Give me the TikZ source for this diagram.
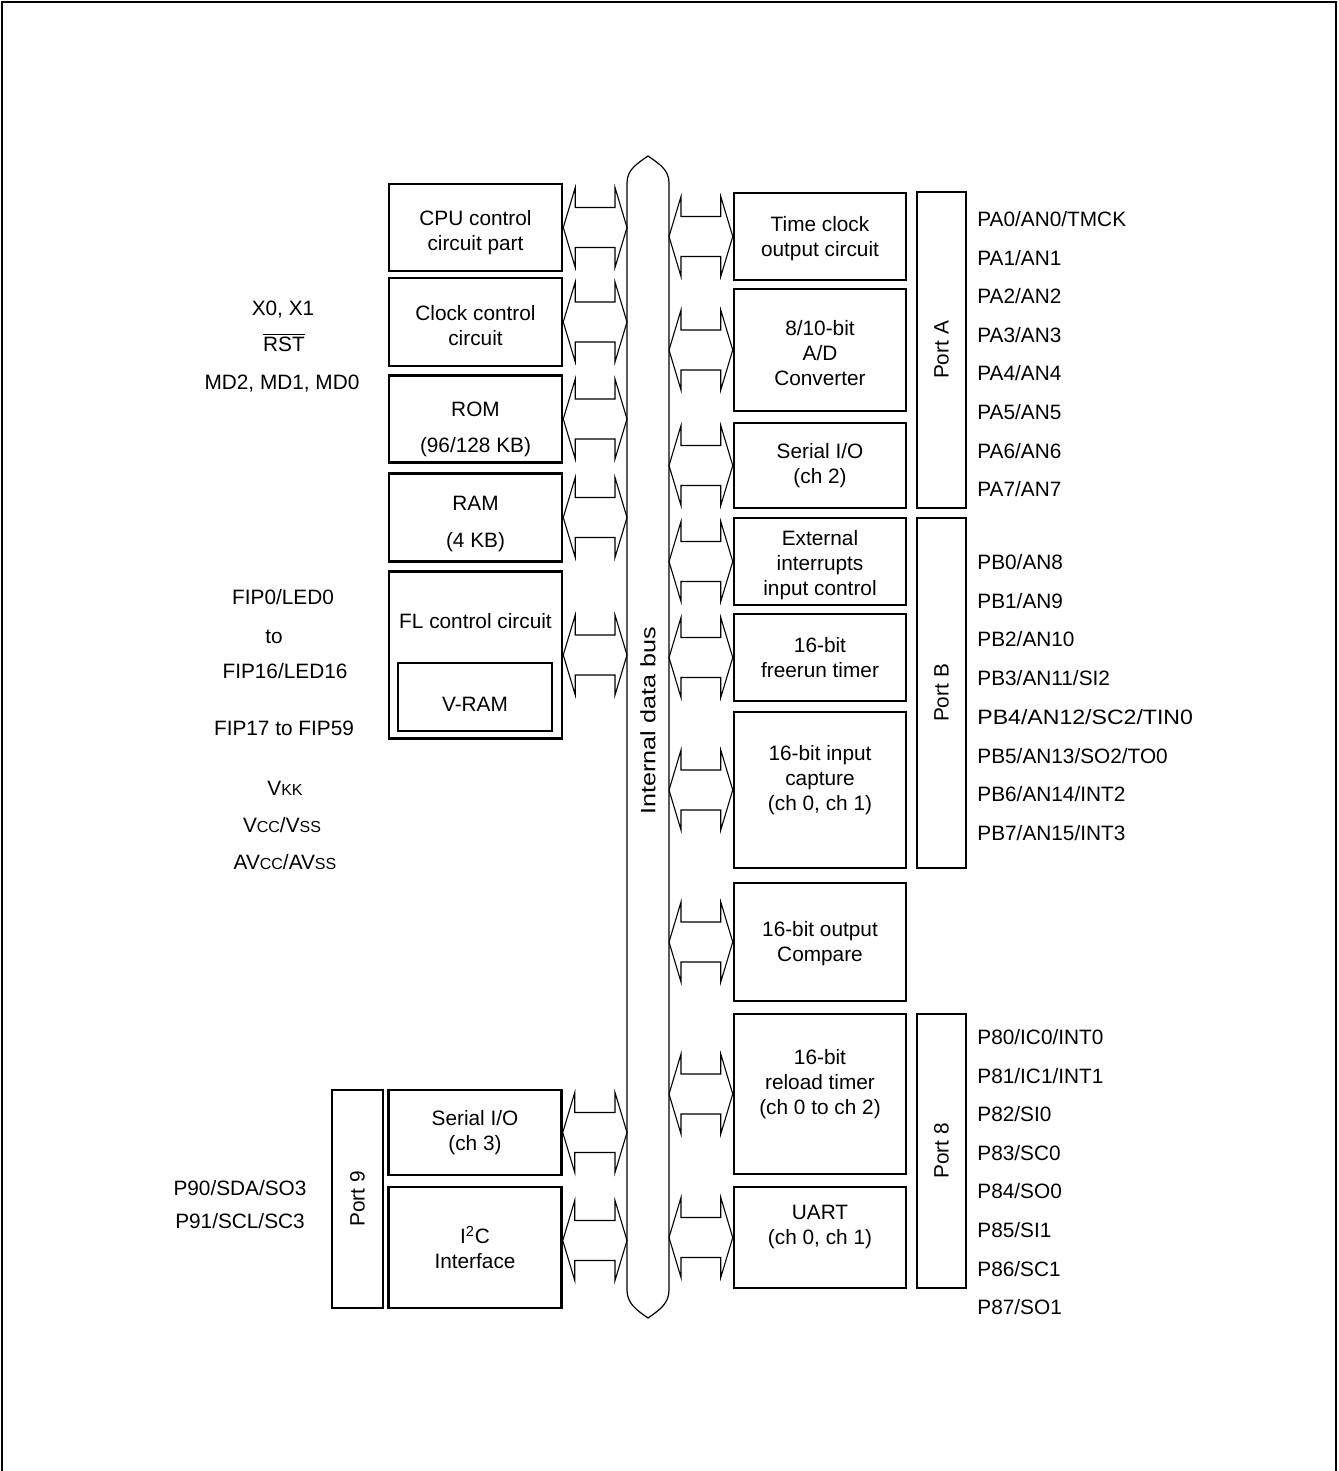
\documentclass[tikz,border=0pt]{standalone}
\usepackage{fontspec}
\setmainfont{Liberation Sans}
\usetikzlibrary{positioning, calc}

\newcommand{\lowcaps}[1]{{\fontsize{8pt}{9pt}\selectfont #1}}
\newcommand{\buslink}[2]{%
  \draw[link] let \p1=(#1), \p2=(#2) in
    (\x1,\y1) -- (\x1+6pt,\y1+20pt) -- (\x1+6pt,\y1+10pt) -- (\x2-6pt,\y1+10pt)
    -- (\x2-6pt,\y1+20pt) -- (\x2,\y1) -- (\x2-6pt,\y1-20pt) -- (\x2-6pt,\y1-10pt)
    -- (\x1+6pt,\y1-10pt) -- (\x1+6pt,\y1-20pt) -- cycle;}

\begin{document}
\begin{tikzpicture}[
        x=0.5pt, y=-0.5pt,
        font=\fontsize{10.4pt}{12.5pt}\selectfont,
        box/.style   = {draw, line width=1.25pt, inner sep=0pt, align=center},
        lbox/.style  = {box, minimum width=86.5pt},
        rbox/.style  = {box, minimum width=86pt},
        portbox/.style = {draw, line width=1.25pt, inner sep=0pt, minimum width=24.5pt},
        pin/.style   = {anchor=base west, inner sep=0pt},
        sig/.style   = {anchor=base, inner sep=0pt},
        link/.style  = {line width=0.55pt, line join=miter},
        busline/.style = {line width=0.6pt},
    ]
    \useasboundingbox (0,0) rectangle (1338,1471);
    \draw[line width=1pt] (2,1471) -- (2,2) -- (1336,2) -- (1336,1471);

    % internal data bus
    \node[minimum width=21pt, minimum height=553.5pt, inner sep=0pt, outer sep=0pt] (bus) at (648,736.5) {};
    \draw[busline] (bus.south west) -- (bus.north west) to[out=90,in=215] ($(bus.north)+(0,-27)$)
        to[out=-35,in=90] (bus.north east) -- (bus.south east) to[out=-90,in=35] ($(bus.south)+(0,28)$)
        to[out=145,in=-90] (bus.south west) -- cycle;
    \node[rotate=90] (buslabel) at (648,721) {\scalebox{1.21}[1]{Internal data bus}};

    % left blocks
    \node[lbox, minimum height=43.5pt] (cpu) at (475.5,227.5) {\rule{0pt}{12.5pt}CPU control\\circuit part};
    \node[lbox, minimum height=44pt] (clk) at (475.5,322) {\rule{0pt}{11.5pt}Clock control\\circuit};
    \node[lbox, minimum height=43.5pt] (rom) at (475.5,419) {\rule{0pt}{17.5pt}ROM\\[5.75pt](96/128 KB)};
    \node[lbox, minimum height=44pt] (ram) at (475.5,517.5) {\rule{0pt}{13.5pt}RAM\\[5.75pt](4 KB)};
    \node[lbox, minimum height=83.5pt] (fl) at (475.5,655) {};
    \node[sig] (fltitle) at (475.5,628.5) {FL control circuit};
    \node[draw, line width=0.6pt, minimum width=77pt, minimum height=34pt, inner sep=0pt,
          text height=14.5pt, text depth=0pt] (vram) at (475,697) {V-RAM};
    \node[lbox, minimum height=42.5pt] (sio3) at (475,1132.5) {Serial I/O\\(ch 3)};
    \node[lbox, minimum height=60.5pt] (i2c) at (475,1247.5) {I\textsuperscript{2}C\\Interface};
    \node[portbox, minimum width=25.5pt, minimum height=109pt] (port9) at (357.5,1199) {\rotatebox{90}{Port 9}};

    % right blocks
    \node[rbox, minimum height=43.5pt] (tclk) at (820,236.5) {\rule{0pt}{10pt}Time clock\\output circuit};
    \node[rbox, minimum height=61pt] (ad) at (820,350) {\rule{0pt}{10.5pt}8/10-bit\\A/D\\Converter};
    \node[rbox, minimum height=42.5pt] (sio2) at (820,465.5) {Serial I/O\\(ch 2)};
    \node[rbox, minimum height=43.5pt] (ext) at (820,561.5) {\rule{0pt}{11.5pt}External\\interrupts\\input control};
    \node[rbox, minimum height=43.5pt] (frt) at (820,657.5) {16-bit\\freerun timer};
    \node[rbox, minimum height=78pt] (icap) at (820,790) {16-bit input\\capture\\(ch 0, ch 1)\\\mbox{}};
    \node[rbox, minimum height=59pt] (ocmp) at (820,942) {\rule{0pt}{9.5pt}16-bit output\\Compare};
    \node[rbox, minimum height=80pt] (rld) at (820,1094) {16-bit\\reload timer\\(ch 0 to ch 2)\\\mbox{}};
    \node[rbox, minimum height=50.5pt] (uart) at (820,1237.5) {UART\\(ch 0, ch 1)\\\mbox{}};

    \node[portbox, minimum height=158pt] (porta) at (941.5,350) {\rotatebox{90}{Port A}};
    \node[portbox, minimum height=175pt] (portb) at (941.5,693) {\rotatebox{90}{Port B}};
    \node[portbox, minimum height=137pt] (port8) at (941.5,1151) {\rotatebox{90}{Port 8}};

    % bus links
    \foreach \b in {cpu,clk,rom,ram,fl,sio3}
        \buslink{\b.east}{bus.west |- \b.east};
    \coordinate (i2clink) at ([yshift=3.5pt]i2c.east);
    \buslink{i2clink}{bus.west |- i2clink};
    \foreach \b in {tclk,ad,sio2,ext,frt,icap,ocmp,rld,uart}
        \buslink{bus.east |- \b.west}{\b.west};

    % pins
    \foreach \t [count=\i from 0] in {PA0/AN0/TMCK,PA1/AN1,PA2/AN2,PA3/AN3,PA4/AN4,PA5/AN5,PA6/AN6,PA7/AN7}
        \node[pin] (pa\i) at (977,226.5+38.6*\i) {\t};
    \foreach \t [count=\i from 0] in {PB0/AN8,PB1/AN9,PB2/AN10,PB3/AN11/SI2,{\scalebox{1.11}[1]{PB4/AN12/SC2/TIN0}},PB5/AN13/SO2/TO0,PB6/AN14/INT2,PB7/AN15/INT3}
        \node[pin] (pb\i) at (977,569.5+38.7*\i) {\t};
    \foreach \t [count=\i from 0] in {P80/IC0/INT0,P81/IC1/INT1,P82/SI0,P83/SC0,P84/SO0,P85/SI1,P86/SC1,P87/SO1}
        \node[pin] (p8\i) at (977,1044.5+38.6*\i) {\t};

    % left signals
    \node[sig] (x01)   at (283,315.5) {X0, X1};
    \node[sig] (rst)   at (284,351.5) {$\overline{\mbox{RST}}$};
    \node[sig] (md)    at (282,389.5) {MD2, MD1, MD0};
    \node[sig] (fip0)  at (283,604.5) {FIP0/LED0};
    \node[sig] (fipto) at (274,643.5) {to};
    \node[sig] (fip16) at (285,678.5) {FIP16/LED16};
    \node[sig] (fip17) at (284,735.5) {FIP17 to FIP59};
    \node[sig] (vkk)   at (285,795.5) {V\lowcaps{KK}};
    \node[sig] (vcc)   at (282,832.5) {V\lowcaps{CC}/V\lowcaps{SS}};
    \node[sig] (avcc)  at (285,869.5) {AV\lowcaps{CC}/AV\lowcaps{SS}};
    \node[sig] (p90)   at (240,1195.5) {P90/SDA/SO3};
    \node[sig] (p91)   at (240,1228.5) {P91/SCL/SC3};
\end{tikzpicture}
\end{document}
